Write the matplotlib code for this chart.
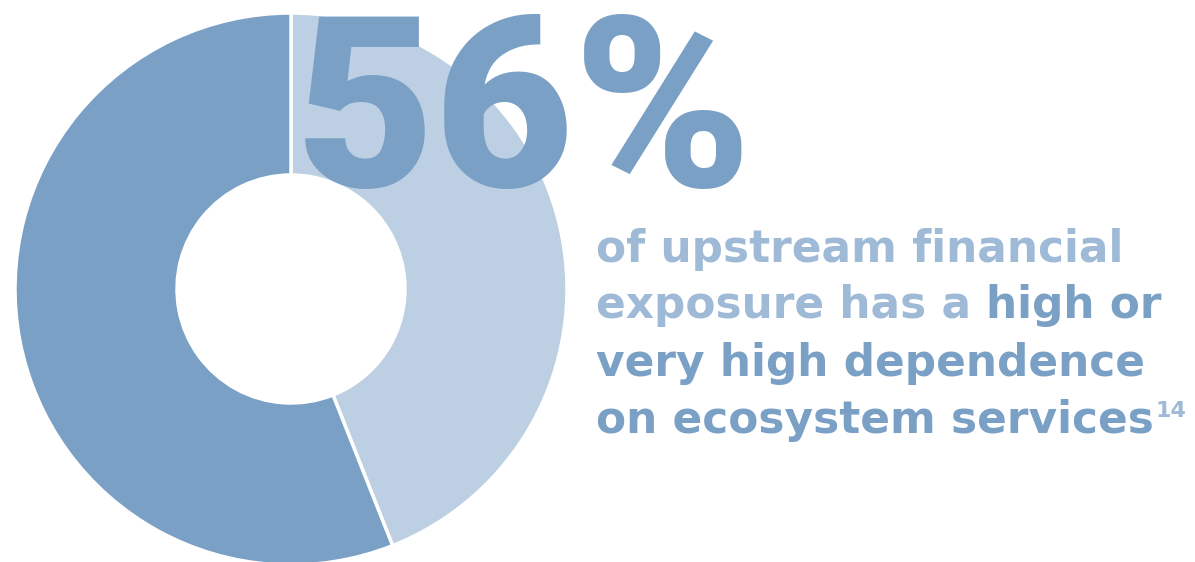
import matplotlib.pyplot as plt

shares = [44, 56]
share_labels = ['other', 'high or very high dependence']
colors = ['#bdd0e3', '#7ba0c5']
big_number = '56%'

light_txt = '#9fbad6'
dark_txt = '#7ba0c5'

# text lines as (piece, colour)
lines = [
    [('of upstream financial', light_txt)],
    [('exposure has a ', light_txt), ('high or', dark_txt)],
    [('very high dependence', dark_txt)],
    [('on ecosystem services', dark_txt)],
]
footnote = '14'

W, H = 1195, 562
fig = plt.figure(figsize=(W / 100, H / 100), dpi=100)
ax = fig.add_axes([0, 0, 1, 1])

ax.pie(shares, colors=colors, startangle=90, counterclock=False,
       center=(291, H - 289), radius=276, frame=True,
       wedgeprops=dict(width=162, edgecolor='white', linewidth=2.5))
ax.set_xlim(0, W)
ax.set_ylim(0, H)
ax.set_aspect('equal')
ax.axis('off')

ax.text(296, H - 187, big_number, fontsize=173, fontweight=900,
        family='Roboto', color=dark_txt, ha='left', va='baseline')

fig.canvas.draw()
renderer = fig.canvas.get_renderer()
x0 = 596
baselines = [262, 318, 376, 433]
x = x0
for line, yb in zip(lines, baselines):
    x = x0
    for piece, c in line:
        t = ax.text(x, H - yb, piece, fontsize=31.6, fontweight='bold',
                    family='DejaVu Sans', color=c, ha='left', va='baseline')
        bb = t.get_window_extent(renderer)
        x = ax.transData.inverted().transform((bb.x1, 0))[0]
ax.text(x + 2, H - 417, footnote, fontsize=16, fontweight='bold',
        family='DejaVu Sans', color=light_txt, ha='left', va='baseline')

fig.savefig('out.png', dpi=100)
